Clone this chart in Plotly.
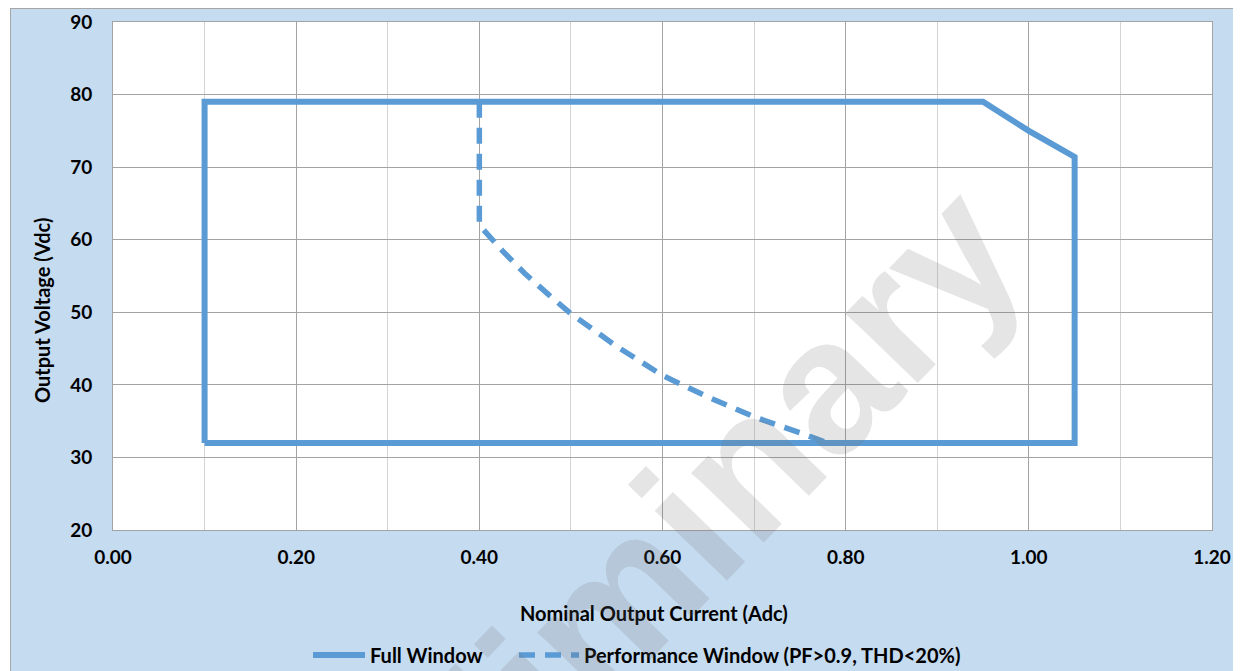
import plotly.graph_objects as go

# ---- data ----
full_x = [0.10, 0.10, 0.95, 0.975, 1.00, 1.025, 1.05, 1.05, 0.10]
full_y = [32, 79, 79, 76.9, 75.0, 73.2, 71.4, 32, 32]

perf_x = [0.40, 0.40, 0.425, 0.45, 0.475, 0.50, 0.55, 0.60, 0.65, 0.70, 0.75, 0.78]
perf_y = [79, 62, 58.5, 55.3, 52.5, 49.8, 45.3, 41.3, 38.3, 35.6, 33.4, 32]

x_ticks = [0.0, 0.2, 0.4, 0.6, 0.8, 1.0, 1.2]
x_tick_labels = ["0.00", "0.20", "0.40", "0.60", "0.80", "1.00", "1.20"]
y_ticks = [20, 30, 40, 50, 60, 70, 80, 90]

series_names = ["Full Window", "Performance Window (PF>0.9, THD<20%)"]
watermark = "Preliminary"

LINE = "#5B9BD5"
BG = "#C5DBF0"
FONT = "Lato"

fig = go.Figure()
fig.add_trace(go.Scatter(x=full_x, y=full_y, mode="lines", name=series_names[0],
                         line=dict(color=LINE, width=6), legend="legend"))
fig.add_trace(go.Scatter(x=perf_x, y=perf_y, mode="lines", name=series_names[1],
                         line=dict(color=LINE, width=5.5, dash="16px,10px"), legend="legend2"))

# page body has an 8px margin, so the figure is offset by 8px
W, H = 1233, 663
L, R, T, B = 105, 29, 14, 141
pw, ph = W - L - R, H - T - B

def px2paper_x(px):
    return (px - L) / pw

def px2paper_y(py):
    return (H - B - py) / ph

legend_font = dict(family=FONT, size=20, weight="bold", color="black")

fig.update_layout(
    width=W, height=H,
    margin=dict(l=L, r=R, t=T, b=B, autoexpand=False),
    paper_bgcolor=BG,
    plot_bgcolor="white",
    font=dict(family=FONT, size=19, color="black"),
    showlegend=True,
    legend=dict(orientation="h", x=px2paper_x(300), xanchor="left",
                y=px2paper_y(647), yanchor="middle", bgcolor="rgba(0,0,0,0)",
                font=legend_font, itemwidth=52),
    legend2=dict(orientation="h", x=px2paper_x(506), xanchor="left",
                 y=px2paper_y(647), yanchor="middle", bgcolor="rgba(0,0,0,0)",
                 font=legend_font, itemwidth=60),
)

fig.update_xaxes(
    range=[0, 1.2], tickvals=x_ticks, ticktext=x_tick_labels,
    showgrid=True, gridcolor="#A3A3A3", gridwidth=1,
    minor=dict(dtick=0.1, showgrid=True, gridcolor="#D4D4D4", gridwidth=1),
    showline=True, linecolor="#A3A3A3", linewidth=1, mirror=True,
    zeroline=False, ticks="", ticklabelstandoff=10,
    tickfont=dict(family=FONT, size=19, weight="bold"),
)
fig.update_yaxes(
    range=[20, 90], tickvals=y_ticks,
    showgrid=True, gridcolor="#A3A3A3", gridwidth=1,
    showline=True, linecolor="#A3A3A3", linewidth=1, mirror=True,
    zeroline=False, ticks="", ticklabelstandoff=16,
    tickfont=dict(family=FONT, size=19, weight="bold"),
)

# white outer strip + border of the chart area
fig.add_shape(type="rect", xref="paper", yref="paper",
              x0=px2paper_x(-5), x1=px2paper_x(2), y0=px2paper_y(H + 5), y1=px2paper_y(-5),
              fillcolor="white", line=dict(width=0), layer="below")
fig.add_shape(type="line", xref="paper", yref="paper",
              x0=px2paper_x(2.5), x1=px2paper_x(2.5), y0=px2paper_y(0), y1=px2paper_y(H + 5),
              line=dict(color="#A6A6A6", width=1))
fig.add_shape(type="line", xref="paper", yref="paper",
              x0=px2paper_x(2.5), x1=px2paper_x(W + 5), y0=px2paper_y(0.5), y1=px2paper_y(0.5),
              line=dict(color="#A6A6A6", width=1))

# axis titles
fig.add_annotation(text="Nominal Output Current (Adc)", xref="paper", yref="paper",
                   x=px2paper_x(646), y=px2paper_y(605), showarrow=False,
                   xanchor="center", yanchor="middle",
                   font=dict(family=FONT, size=20, weight="bold"))
fig.add_annotation(text="Output Voltage (Vdc)", xref="paper", yref="paper",
                   x=px2paper_x(34), y=px2paper_y(303), showarrow=False, textangle=-90,
                   xanchor="center", yanchor="middle",
                   font=dict(family=FONT, size=20, weight="bold"))

# watermark
fig.add_annotation(text=watermark, xref="paper", yref="paper",
                   x=px2paper_x(618), y=px2paper_y(582), showarrow=False, textangle=-46,
                   xanchor="center", yanchor="middle",
                   font=dict(family="Liberation Sans", size=190, weight="bold",
                             color="rgba(110,110,110,0.18)"))

fig.write_html("out.html")
